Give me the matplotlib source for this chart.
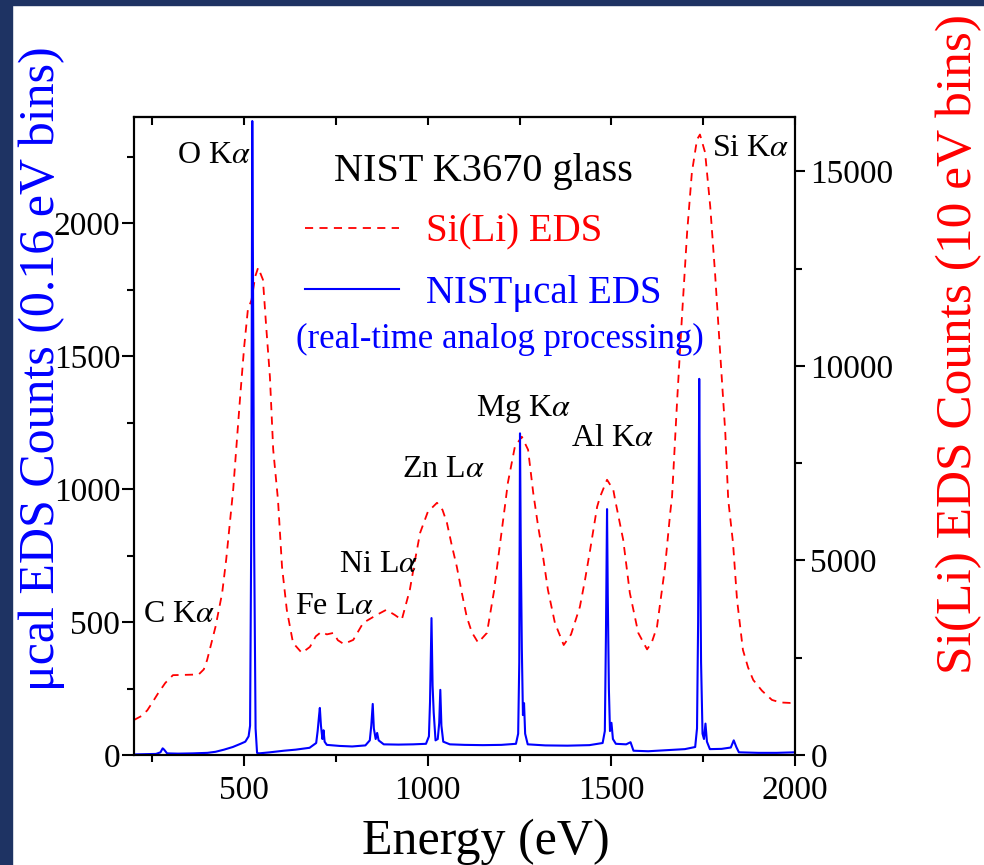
import matplotlib
matplotlib.use("Agg")
import matplotlib.pyplot as plt
from matplotlib.ticker import MultipleLocator
from matplotlib.patches import Rectangle

plt.rcParams['font.family'] = ['Liberation Serif', 'DejaVu Serif']
plt.rcParams['mathtext.fontset'] = 'stix'

# Si(Li) EDS, 10 eV bins (right axis)
sili_e = [200, 220, 236, 250, 265, 285, 306, 340, 376, 390, 399, 410, 422, 440,
          451, 470, 489, 500, 510, 520, 530, 538, 551, 560, 570, 579, 592, 603,
          616, 633, 657, 679, 695, 710, 725, 743, 755, 771, 797, 824, 861, 887,
          910, 929, 951, 965, 979, 1000, 1014, 1025, 1040, 1052, 1065, 1079,
          1093, 1106, 1120, 1137, 1161, 1180, 1197, 1210, 1218, 1237, 1256,
          1273, 1287, 1300, 1311, 1327, 1346, 1370, 1390, 1414, 1428, 1442,
          1461, 1469, 1488, 1505, 1510, 1532, 1550, 1573, 1597, 1610, 1624,
          1646, 1660, 1665, 1679, 1692, 1706, 1719, 1733, 1741, 1755, 1769,
          1782, 1796, 1810, 1818, 1831, 1842, 1858, 1872, 1886, 1910, 1937,
          1960, 1986, 2000]
sili_counts = [900, 1000, 1146, 1350, 1577, 1850, 2052, 2060, 2069, 2200, 2440,
               2850, 3301, 4163, 5025, 6818, 9210, 10500, 11448, 11700, 12300,
               12529, 12220, 11000, 9725, 7847, 6560, 4837, 3730, 2880, 2624,
               2778, 3050, 3164, 3100, 3138, 2950, 2853, 2958, 3396, 3602, 3732,
               3600, 3474, 4245, 5000, 5711, 6250, 6380, 6483, 6300, 5969, 5400,
               4837, 4150, 3550, 3150, 2888, 3138, 4200, 5454, 6400, 6998, 7924,
               8181, 7847, 6740, 5900, 5274, 4245, 3396, 2827, 3100, 3807, 4500,
               5274, 6380, 6637, 7075, 6818, 6560, 5531, 4168, 3138, 2715, 2900,
               3293, 4837, 6226, 6637, 9133, 11268, 13429, 14973, 15822, 15950,
               15488, 14098, 12400, 10342, 8284, 6560, 5454, 3988, 2701, 2250,
               1929, 1650, 1415, 1350, 1338, 1360]

# NIST ucal EDS, 0.16 eV bins (left axis)
ucal_e = [200, 230, 260, 272, 278, 282, 290, 320, 360, 400, 422, 445, 469, 490,
          503, 512, 516, 519, 522, 525, 527, 531, 535, 540, 570, 608, 640, 678,
          696, 700, 704, 706, 709, 713, 716, 719, 725, 760, 794, 830, 842, 846,
          850, 853, 858, 862, 866, 880, 920, 960, 995, 1003, 1006, 1010, 1013,
          1016, 1021, 1027, 1031, 1034, 1037, 1042, 1060, 1100, 1150, 1200,
          1240, 1246, 1249, 1251, 1253, 1256, 1259, 1262, 1265, 1272, 1320,
          1380, 1440, 1476, 1482, 1485, 1488, 1490, 1493, 1496, 1500, 1504,
          1512, 1540, 1552, 1560, 1600, 1650, 1700, 1728, 1733, 1736, 1739,
          1741, 1744, 1748, 1752, 1756, 1760, 1768, 1800, 1825, 1833, 1840,
          1847, 1900, 1950, 2000]
ucal_counts = [2, 3, 4, 10, 25, 20, 6, 5, 6, 8, 12, 20, 30, 42, 50, 70, 110, 790,
               2385, 1500, 810, 100, 8, 6, 10, 16, 20, 27, 45, 90, 150, 177, 110,
               60, 93, 50, 38, 34, 32, 36, 55, 110, 192, 100, 60, 83, 55, 40, 39,
               40, 42, 70, 200, 515, 260, 160, 55, 60, 120, 245, 110, 50, 40, 38,
               37, 38, 42, 80, 350, 1210, 800, 400, 150, 195, 80, 40, 36, 35, 37,
               45, 90, 450, 925, 600, 250, 90, 121, 60, 42, 40, 48, 16, 14, 18,
               22, 30, 100, 500, 1415, 900, 350, 80, 60, 118, 50, 22, 23, 28, 55,
               30, 10, 8, 8, 10]

peak_labels = ['C K$\\alpha$', 'O K$\\alpha$', 'Fe L$\\alpha$', 'Ni L$\\alpha$',
               'Zn L$\\alpha$', 'Mg K$\\alpha$', 'Al K$\\alpha$', 'Si K$\\alpha$']
peak_label_e = [323, 418, 747, 867, 1041, 1262, 1502, 1880]
peak_label_counts = [528, 2257, 558, 717, 1075, 1302, 1189, 2283]

fig = plt.figure(figsize=(9.84, 8.65), dpi=100)
fig.add_artist(Rectangle((0, 1 - 5/865), 1, 5/865, transform=fig.transFigure,
                         color='#1e3363', zorder=10))
fig.add_artist(Rectangle((0, 0), 12/984, 1, transform=fig.transFigure,
                         color='#1e3363', zorder=10))

ax = fig.add_axes([0.1362, 0.1272, 0.6718, 0.7375])
ax2 = ax.twinx()
ax.set_zorder(ax2.get_zorder() + 1)
ax.patch.set_visible(False)

red, = ax2.plot(sili_e, sili_counts, color='#ff0000', lw=1.3, dashes=(4.5, 3.5))
blue, = ax.plot(ucal_e, ucal_counts, color='#0000ff', lw=1.5)

ax.set_xlim(200, 2000)
ax.set_ylim(0, 2400)
ax2.set_ylim(0, 16400)

ax.xaxis.set_major_locator(MultipleLocator(500))
ax.xaxis.set_minor_locator(MultipleLocator(250))
ax.yaxis.set_major_locator(MultipleLocator(500))
ax.yaxis.set_minor_locator(MultipleLocator(250))
ax2.yaxis.set_major_locator(MultipleLocator(5000))
ax2.yaxis.set_minor_locator(MultipleLocator(2500))

for a in (ax, ax2):
    for s in a.spines.values():
        s.set_linewidth(1.5)
ax.tick_params(which='both', direction='out', width=1.5, labelsize=24, top=False)
ax.tick_params(axis='y', which='major', length=9, pad=1)
ax.tick_params(axis='y', which='minor', length=5)
ax.tick_params(axis='x', which='major', length=8, pad=7)
ax.tick_params(axis='x', which='minor', length=5)
ax2.tick_params(which='both', direction='out', width=1.5, labelsize=24)
ax2.tick_params(which='major', length=7, pad=4)
ax2.tick_params(which='minor', length=5)

top = ax.secondary_xaxis('top')
top.xaxis.set_major_locator(MultipleLocator(250))
top.tick_params(direction='in', length=6, width=1.5, labeltop=False)
top.spines['top'].set_linewidth(1.5)

ax.set_xlabel('Energy (eV)', fontsize=36)
ax.xaxis.set_label_coords(0.532, -0.1)
ax.set_ylabel('\u03bccal EDS Counts (0.16 eV bins)', fontsize=36, color='#0000ff')
ax.yaxis.set_label_coords(-0.105, 0.605)
ax2.set_ylabel('Si(Li) EDS Counts (10 eV bins)', fontsize=37, color='#ff0000')
ax2.yaxis.set_label_coords(1.213, 0.645)

for lab, e, c in zip(peak_labels, peak_label_e, peak_label_counts):
    ax.text(e, c, lab, ha='center', va='center', fontsize=23)

leg = ax.legend([red, blue], ['Si(Li) EDS', 'NIST\u03bccal EDS'],
                title='NIST K3670 glass', title_fontsize=29, fontsize=28,
                frameon=False, loc='upper left', bbox_to_anchor=(0.259, 0.944),
                borderpad=0, borderaxespad=0, handlelength=2.4,
                handletextpad=0.7, labelspacing=0.62,
                labelcolor=['#ff0000', '#0000ff'])
ax.text(0.554, 0.652, '(real-time analog processing)', transform=ax.transAxes,
        ha='center', va='center', fontsize=25, color='#0000ff')

fig.savefig('out.png', dpi=100, facecolor='white')
